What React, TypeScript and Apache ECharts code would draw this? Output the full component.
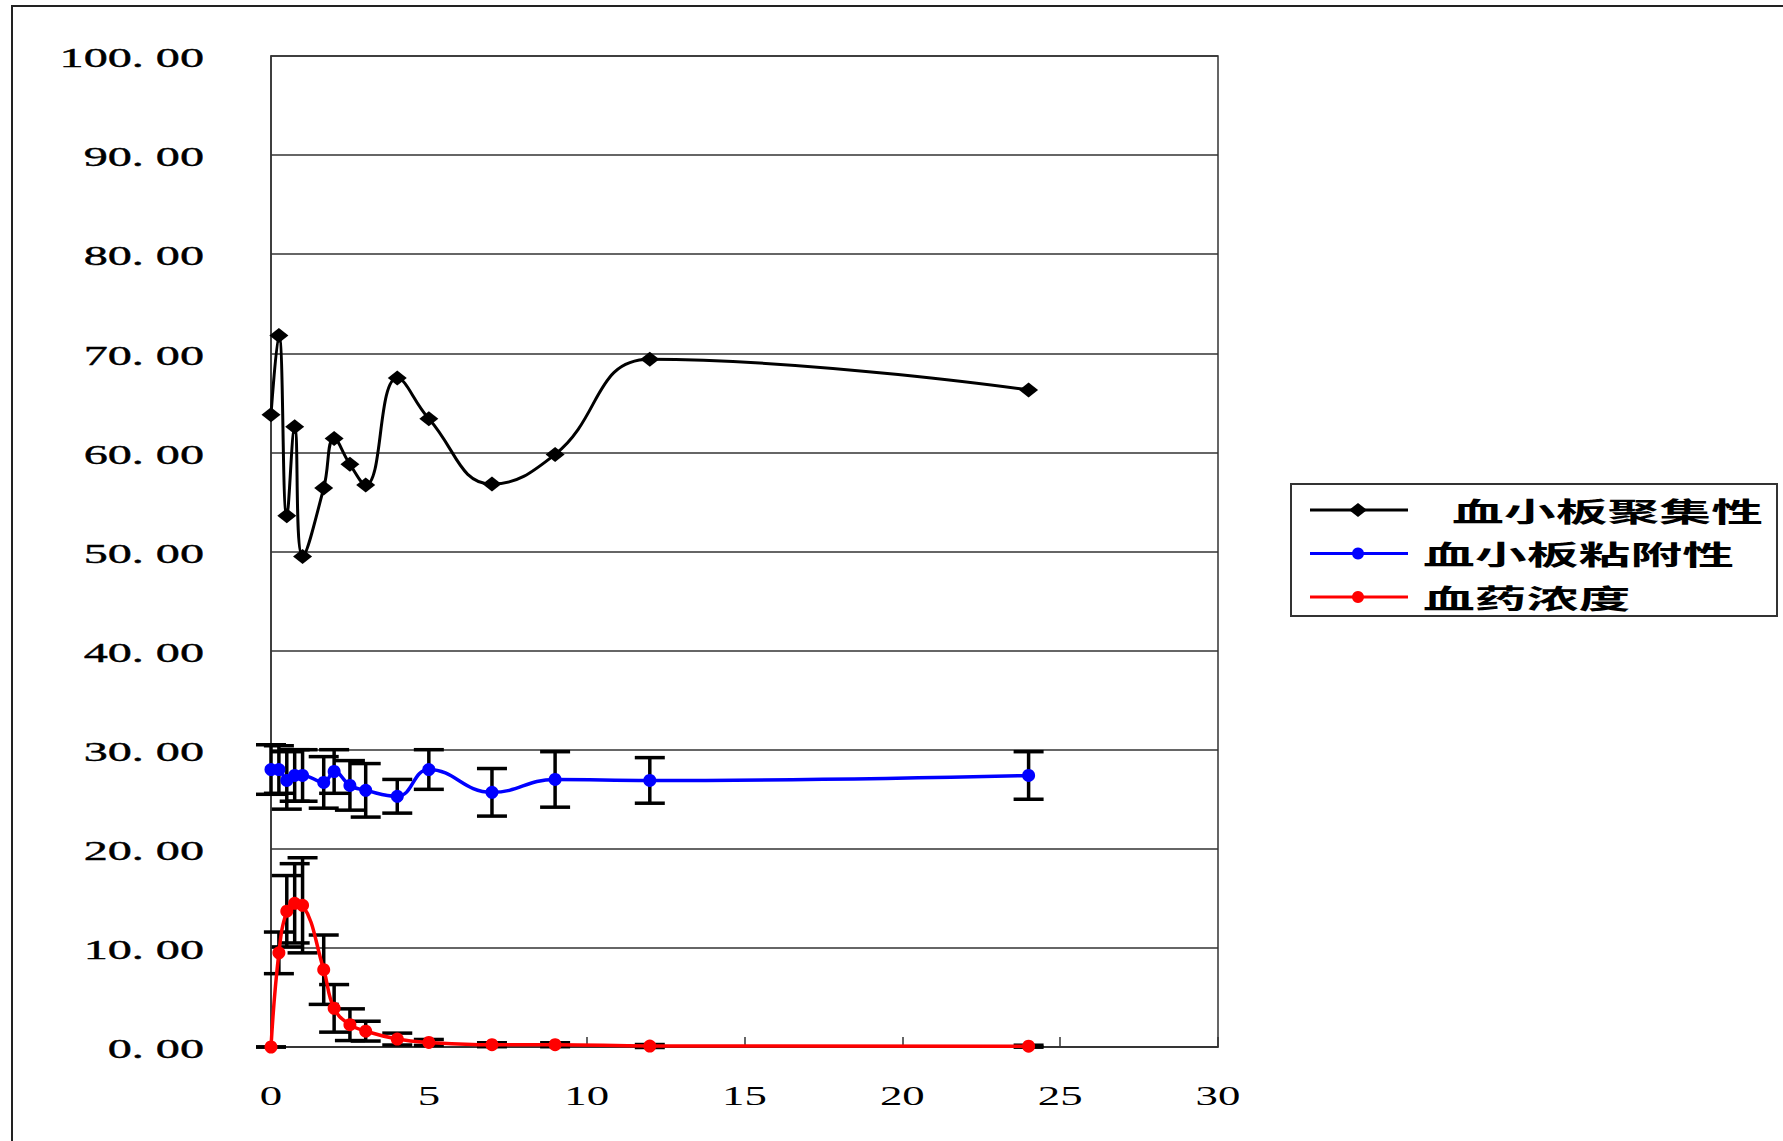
import React, { useEffect, useRef } from "react";
import * as echarts from "echarts";

// ---- data ----
const times = [0, 0.25, 0.5, 0.75, 1, 1.67, 2, 2.5, 3, 4, 5, 7, 9, 12, 24];
const aggregation = [63.8, 71.8, 53.6, 62.6, 49.5, 56.4, 61.4, 58.8, 56.7, 67.5, 63.4, 56.8, 59.8, 69.4, 66.3];
const adhesion = [28.0, 28.0, 26.9, 27.4, 27.4, 26.7, 27.8, 26.4, 25.9, 25.3, 28.0, 25.7, 27.0, 26.9, 27.4];
const adhesionErr = [2.5, 2.4, 2.9, 2.6, 2.6, 2.6, 2.2, 2.5, 2.7, 1.7, 2.0, 2.4, 2.8, 2.3, 2.4];
const concentration = [0, 9.5, 13.7, 14.5, 14.3, 7.8, 3.9, 2.25, 1.6, 0.8, 0.46, 0.23, 0.23, 0.1, 0.08];
const concentrationErr = [0, 2.1, 3.6, 4.0, 4.8, 3.5, 2.4, 1.6, 1.0, 0.6, 0.3, 0.2, 0.2, 0.15, 0.1];

const seriesNames = ["血小板聚集性", "血小板粘附性", "血药浓度"];
const seriesColors = ["#000000", "#0000ff", "#ff0000"];

const xTickValues = [0, 5, 10, 15, 20, 25, 30];
const yTickValues = [0, 10, 20, 30, 40, 50, 60, 70, 80, 90, 100];
const formatY = (v: number) => {
  const s = v.toFixed(2).split(".");
  return s[0] + ". " + s[1];
};

const LABEL_FONT = "Liberation Serif";
const CJK_FONT = "Noto Sans CJK SC";

function errorBarSeries(values: number[], errs: number[]) {
  return {
    type: "custom",
    z: 1,
    silent: true,
    clip: false,
    renderItem: (params: any, api: any) => {
      const x = api.value(0);
      const y = api.value(1);
      const e = api.value(2);
      const top = api.coord([x, y + e]);
      const bot = api.coord([x, y - e]);
      const hw = 15;
      const style = { stroke: "#000", lineWidth: 3.5 };
      return {
        type: "group",
        children: [
          { type: "line", shape: { x1: top[0], y1: top[1], x2: bot[0], y2: bot[1] }, style },
          { type: "line", shape: { x1: top[0] - hw, y1: top[1], x2: top[0] + hw, y2: top[1] }, style },
          { type: "line", shape: { x1: bot[0] - hw, y1: bot[1], x2: bot[0] + hw, y2: bot[1] }, style },
        ],
      };
    },
    encode: { x: 0, y: 1 },
    data: times.map((t, i) => [t, values[i], errs[i]]),
  };
}

export default function App() {
  const ref = useRef<HTMLDivElement>(null);

  useEffect(() => {
    document.body.style.margin = "0";
    document.body.style.overflow = "hidden";
    const chart = echarts.init(ref.current!, null, { renderer: "svg" });

    const option: any = {
      animation: false,
      backgroundColor: "#ffffff",
      grid: {
        left: 271,
        top: 56,
        width: 947,
        height: 991,
        show: true,
        borderColor: "#333",
        borderWidth: 1.5,
        backgroundColor: "transparent",
      },
      xAxis: {
        type: "value",
        min: 0,
        max: 30,
        interval: 5,
        axisLine: { show: true, lineStyle: { color: "#333", width: 1.5 } },
        axisTick: { show: true, inside: true, length: 10, lineStyle: { color: "#333", width: 1.5 } },
        axisLabel: { show: false },
        splitLine: { show: false },
      },
      yAxis: {
        type: "value",
        min: 0,
        max: 100,
        interval: 10,
        axisLine: { show: true, lineStyle: { color: "#333", width: 1.5 } },
        axisTick: { show: false },
        axisLabel: { show: false },
        splitLine: { show: true, lineStyle: { color: "#333", width: 1.5 } },
      },
      series: [
        errorBarSeries(adhesion, adhesionErr),
        errorBarSeries(concentration, concentrationErr),
        {
          name: seriesNames[0],
          type: "line",
          smooth: 0.45,
          z: 3,
          data: times.map((t, i) => [t, aggregation[i]]),
          lineStyle: { color: seriesColors[0], width: 3 },
          itemStyle: { color: seriesColors[0] },
          symbol: "diamond",
          symbolSize: [19, 15],
        },
        {
          name: seriesNames[1],
          type: "line",
          smooth: 0.45,
          z: 3,
          data: times.map((t, i) => [t, adhesion[i]]),
          lineStyle: { color: seriesColors[1], width: 3.5 },
          itemStyle: { color: seriesColors[1] },
          symbol: "circle",
          symbolSize: 13,
        },
        {
          name: seriesNames[2],
          type: "line",
          smooth: 0.45,
          z: 3,
          data: times.map((t, i) => [t, concentration[i]]),
          lineStyle: { color: seriesColors[2], width: 3.5 },
          itemStyle: { color: seriesColors[2] },
          symbol: "circle",
          symbolSize: 13,
        },
      ],
    };
    chart.setOption(option);

    const px = (x: number, y: number) => chart.convertToPixel({ gridIndex: 0 } as any, [x, y]) as number[];

    const graphics: any[] = [];
    // outer frame
    graphics.push({
      type: "rect",
      shape: { x: 12, y: 6, width: 1800, height: 1200 },
      style: { fill: "none", stroke: "#222", lineWidth: 2 },
      silent: true,
    });
    // y tick labels
    yTickValues.forEach((v) => {
      const p = px(0, v);
      graphics.push({
        type: "text",
        x: p[0] - 67,
        y: p[1] + 2,
        scaleX: 1.72,
        style: {
          text: formatY(v),
          align: "right",
          verticalAlign: "middle",
          font: `28px "${LABEL_FONT}"`,
          fill: "#000",
          stroke: "#000",
          lineWidth: 0.4,
        },
      });
    });
    // x tick labels
    xTickValues.forEach((v) => {
      const p = px(v, 0);
      graphics.push({
        type: "text",
        x: p[0],
        y: p[1] + 49,
        scaleX: 1.6,
        style: {
          text: String(v),
          align: "center",
          verticalAlign: "middle",
          font: `28px "${LABEL_FONT}"`,
          fill: "#000",
        },
      });
    });
    // legend
    const legendChildren: any[] = [
      {
        type: "rect",
        shape: { x: 0, y: 0, width: 486, height: 132 },
        style: { fill: "#fff", stroke: "#333", lineWidth: 2 },
      },
    ];
    const textStarts = [161, 132, 132];
    seriesNames.forEach((name, i) => {
      const cy = 26 + i * 43.5;
      legendChildren.push({
        type: "line",
        shape: { x1: 19, y1: cy, x2: 117, y2: cy },
        style: { stroke: seriesColors[i], lineWidth: 3 },
      });
      if (i === 0) {
        legendChildren.push({
          type: "polygon",
          shape: { points: [[67, cy - 7], [76, cy], [67, cy + 7], [58, cy]] },
          style: { fill: seriesColors[i] },
        });
      } else {
        legendChildren.push({
          type: "circle",
          shape: { cx: 67, cy, r: 6 },
          style: { fill: seriesColors[i] },
        });
      }
      legendChildren.push({
        type: "text",
        x: textStarts[i],
        y: cy,
        scaleX: 1.92,
        style: {
          text: name,
          align: "left",
          verticalAlign: "middle",
          font: `bold 27px "${CJK_FONT}"`,
          fill: "#000",
        },
      });
    });
    graphics.push({ type: "group", x: 1291, y: 484, children: legendChildren });

    chart.setOption({ graphic: graphics });

    return () => chart.dispose();
  }, []);

  return (
    <div
      ref={ref}
      style={{ position: "absolute", left: 0, top: 0, width: 1783, height: 1141 }}
    />
  );
}
